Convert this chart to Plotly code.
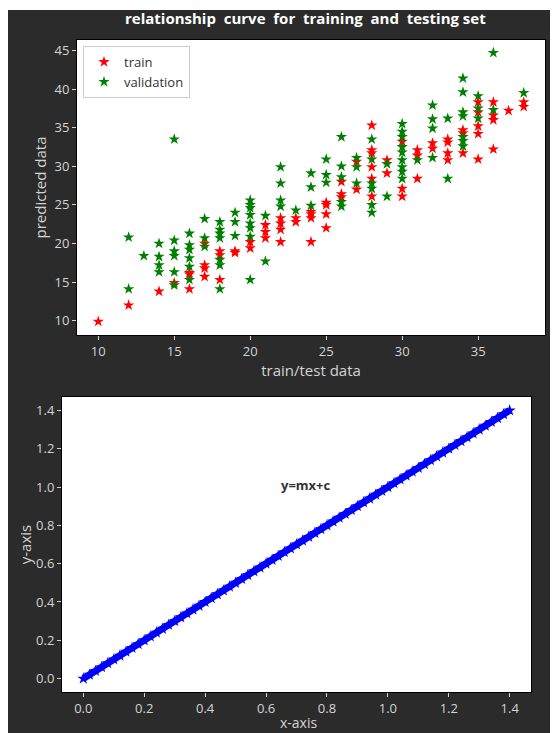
import plotly.graph_objects as go

# ---------------- data ----------------
train_x = [10, 12, 14, 15, 16, 16, 16, 17, 17, 17, 17, 18, 18, 18, 19, 19, 20, 20,
           21, 21, 21, 22, 22, 22, 22, 23, 23, 24, 24, 24, 24, 25, 25, 25, 25,
           26, 26, 26, 27, 27, 28, 28, 28, 28, 28, 28, 29, 29, 30, 30, 30,
           31, 31, 31, 32, 32, 33, 33, 33, 33, 34, 34, 34, 35, 35, 35, 35, 35,
           36, 36, 36, 36, 37, 38, 38]
train_y = [9.9, 12.0, 13.8, 14.9, 16.0, 16.2, 14.1, 20.0, 17.2, 16.8, 15.7, 19.0, 18.5, 15.3, 19.0, 18.8, 20.2, 19.4,
           22.4, 21.5, 20.7, 23.3, 22.6, 21.8, 20.2, 23.3, 22.8, 24.1, 23.3, 20.2, 23.8, 25.3, 25.0, 23.8, 22.0,
           28.0, 26.4, 26.0, 30.6, 27.0, 35.3, 32.1, 31.7, 29.9, 28.4, 26.1, 30.8, 29.1, 33.2, 27.1, 26.1,
           32.1, 31.4, 28.4, 33.0, 32.3, 33.5, 33.1, 31.7, 30.8, 34.7, 34.3, 31.7, 37.0, 35.2, 34.2, 30.9, 38.3,
           38.3, 36.6, 36.0, 32.2, 37.2, 38.3, 37.7]

val_x = [12, 12, 13, 14, 14, 14, 14, 15, 15, 15, 15, 15, 15, 16, 16, 16, 16, 16, 16,
         17, 17, 17, 18, 18, 18, 18, 18, 18, 18, 19, 19, 19, 20, 20, 20, 20, 20, 20, 20, 20,
         21, 21, 22, 22, 22, 22, 23, 24, 24, 24, 25, 25, 25, 26, 26, 26, 26, 26,
         27, 27, 27, 28, 28, 28, 28, 28, 28, 29, 29, 30, 30, 30, 30, 30, 30, 30, 30, 30,
         31, 32, 32, 32, 32, 33, 33, 34, 34, 34, 34, 34, 34, 34, 35, 35, 35, 36, 36, 38]
val_y = [20.8, 14.1, 18.4, 20.0, 18.3, 17.2, 16.3, 33.5, 20.4, 19.0, 18.4, 16.3, 14.6, 21.3, 19.8, 19.2, 18.1, 17.0, 15.3,
         23.2, 20.7, 19.6, 22.8, 21.8, 21.3, 20.7, 17.9, 17.2, 14.1, 24.0, 22.8, 21.0, 25.6, 25.0, 24.6, 23.7, 22.6, 22.0, 20.9, 15.3,
         23.6, 17.7, 29.9, 27.8, 25.6, 24.8, 24.3, 29.1, 27.3, 24.9, 30.9, 28.9, 27.9, 33.8, 30.0, 28.6, 25.4, 24.8,
         31.1, 29.9, 27.8, 33.5, 30.9, 27.8, 27.1, 25.0, 24.0, 30.3, 26.1, 35.5, 34.5, 33.8, 32.5, 31.8, 30.8, 29.9, 29.3, 28.4,
         30.8, 37.9, 36.1, 34.9, 31.1, 36.2, 28.4, 41.4, 39.6, 37.0, 36.5, 33.8, 33.3, 32.6, 39.1, 37.5, 36.2, 44.7, 37.3, 39.5]

line_x = [0.00, 0.02, 0.04, 0.06, 0.08, 0.10, 0.12, 0.14, 0.16, 0.18, 0.20, 0.22, 0.24, 0.26, 0.28,
          0.30, 0.32, 0.34, 0.36, 0.38, 0.40, 0.42, 0.44, 0.46, 0.48, 0.50, 0.52, 0.54, 0.56, 0.58,
          0.60, 0.62, 0.64, 0.66, 0.68, 0.70, 0.72, 0.74, 0.76, 0.78, 0.80, 0.82, 0.84, 0.86, 0.88,
          0.90, 0.92, 0.94, 0.96, 0.98, 1.00, 1.02, 1.04, 1.06, 1.08, 1.10, 1.12, 1.14, 1.16, 1.18,
          1.20, 1.22, 1.24, 1.26, 1.28, 1.30, 1.32, 1.34, 1.36, 1.38, 1.40]
line_y = [0.00, 0.02, 0.04, 0.06, 0.08, 0.10, 0.12, 0.14, 0.16, 0.18, 0.20, 0.22, 0.24, 0.26, 0.28,
          0.30, 0.32, 0.34, 0.36, 0.38, 0.40, 0.42, 0.44, 0.46, 0.48, 0.50, 0.52, 0.54, 0.56, 0.58,
          0.60, 0.62, 0.64, 0.66, 0.68, 0.70, 0.72, 0.74, 0.76, 0.78, 0.80, 0.82, 0.84, 0.86, 0.88,
          0.90, 0.92, 0.94, 0.96, 0.98, 1.00, 1.02, 1.04, 1.06, 1.08, 1.10, 1.12, 1.14, 1.16, 1.18,
          1.20, 1.22, 1.24, 1.26, 1.28, 1.30, 1.32, 1.34, 1.36, 1.38, 1.40]

top_xticks = [10, 15, 20, 25, 30, 35]
top_yticks = [10, 15, 20, 25, 30, 35, 40, 45]
bot_ticks = [0.0, 0.2, 0.4, 0.6, 0.8, 1.0, 1.2, 1.4]

# ---------------- figure ----------------
# The page body has an 8px margin, so the figure sits at (8, 8) in the window.
OFF = 8
W, H = 558 - OFF, 733 - OFF
BG = "#2b2b2b"
TXT = "#d4d4d4"
FONT = "Open Sans"


def px(xp):
    return (xp - OFF) / W


def py(yp):
    return 1 - (yp - OFF) / H


fig = go.Figure()

fig.add_trace(go.Scatter(x=train_x, y=train_y, mode="markers", name="train",
                         marker=dict(symbol="star", size=8.5, color="#ff0000",
                                     line=dict(width=0)),
                         xaxis="x", yaxis="y"))
fig.add_trace(go.Scatter(x=val_x, y=val_y, mode="markers", name="validation",
                         marker=dict(symbol="star", size=8.5, color="#008000",
                                     line=dict(width=0)),
                         xaxis="x", yaxis="y"))
fig.add_trace(go.Scatter(x=line_x, y=line_y, mode="lines+markers", showlegend=False,
                         line=dict(color="#0000ff", width=7),
                         marker=dict(symbol="star", size=9, color="#0000ff"),
                         xaxis="x2", yaxis="y2"))

axis_common = dict(showgrid=False, zeroline=False, showline=True, linecolor="#000000",
                   linewidth=1, mirror=True, ticks="outside", ticklen=4, tickcolor=TXT,
                   tickfont=dict(family=FONT, size=13, color=TXT))

fig.update_layout(
    width=W, height=H,
    margin=dict(l=0, r=0, t=0, b=0),
    paper_bgcolor=BG,
    plot_bgcolor="#ffffff",
    font=dict(family=FONT, color=TXT),
    showlegend=True,
    legend=dict(x=px(83), y=py(46), xanchor="left", yanchor="top",
                bgcolor="rgba(255,255,255,0.9)", bordercolor="#cccccc", borderwidth=1,
                font=dict(family=FONT, size=13, color="#333333"),
                itemwidth=30, tracegroupgap=0),
    xaxis=dict(domain=[px(77), px(545)], range=[8.6, 39.4], tickvals=top_xticks,
               anchor="y",
               title=dict(text="train/test data", standoff=0,
                          font=dict(family=FONT, size=15, color=TXT)),
               **axis_common),
    yaxis=dict(domain=[py(335), py(40)], range=[8.15, 46.35], tickvals=top_yticks,
               anchor="x",
               title=dict(text="predicted data", standoff=4,
                          font=dict(family=FONT, size=15, color=TXT)),
               **axis_common),
    xaxis2=dict(domain=[px(62), px(531)], range=[-0.07, 1.47], tickvals=bot_ticks,
                tickformat=".1f", anchor="y2",
                **axis_common),
    yaxis2=dict(domain=[py(692), py(397)], range=[-0.07, 1.47], tickvals=bot_ticks,
                tickformat=".1f", anchor="x2",
                title=dict(text="y-axis", standoff=0,
                           font=dict(family=FONT, size=15, color=TXT)),
                **axis_common),
    shapes=[
        dict(type="rect", xref="paper", yref="paper", x0=0, x1=1, y0=py(10), y1=1,
             fillcolor="#ffffff", line=dict(width=0), layer="below"),
    ],
    annotations=[
        dict(text="<b>relationship  curve  for  training  and  testing set</b>",
             xref="paper", yref="paper", x=px(305), y=py(18),
             xanchor="center", yanchor="middle", showarrow=False,
             font=dict(family=FONT, size=15, color="#ffffff")),
        dict(text="<b>y=mx+c</b>", xref="x2", yref="y2", x=0.73, y=1.01,
             xanchor="center", yanchor="middle", showarrow=False,
             font=dict(family=FONT, size=13, color="#333333")),
        dict(text="x-axis", xref="paper", yref="paper", x=px(298), y=0.0,
             xanchor="center", yanchor="bottom", showarrow=False, borderpad=0,
             font=dict(family=FONT, size=14, color=TXT)),
    ],
)

fig.write_html("out.html")
